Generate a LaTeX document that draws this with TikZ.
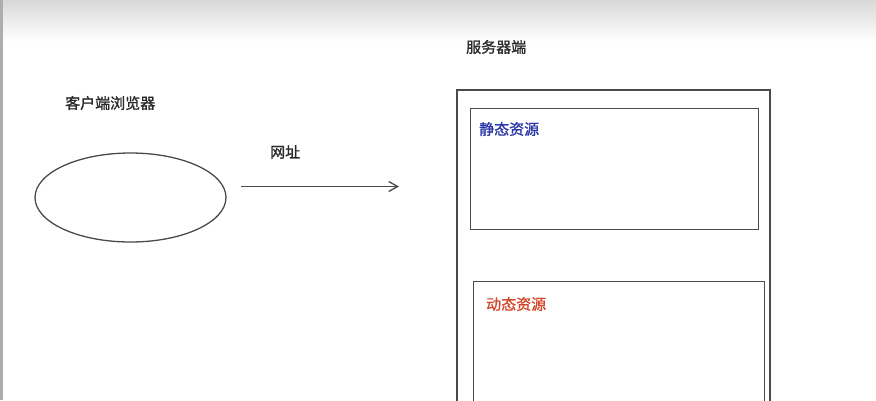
\documentclass[tikz,border=0pt]{standalone}
\usepackage{fontspec}
\newfontfamily\cjk[FakeBold=1.2]{Noto Sans CJK SC}
\usetikzlibrary{arrows.meta,shapes.geometric}
\definecolor{linegray}{HTML}{4A4A4A}
\definecolor{txtgray}{HTML}{2A2A2A}
\definecolor{resblue}{HTML}{2B36A8}
\definecolor{resred}{HTML}{D4472A}
\tikzset{
  lbl/.style={font=\cjk\fontsize{15}{17}\selectfont, text=txtgray, inner sep=0pt},
  boxline/.style={draw=linegray, line width=1.3pt},
}
\begin{document}
\begin{tikzpicture}[x=1pt,y=-1pt]
\useasboundingbox (0,0) rectangle (876,400);
\fill[white] (0,0) rectangle (876,400);
\shade[top color=black!15, bottom color=white] (0,0) rectangle (876,42);
\fill[black!32] (0,0) rectangle (3,400);
% client
\node[lbl, anchor=west] (client) at (65,103) {客户端浏览器};
\node[boxline, draw, ellipse, minimum width=191, minimum height=89, inner sep=0pt] (browser) at (130.5,197.5) {};
\coordinate (arrS) at (241,186.5);
\coordinate (arrE) at (399,186.5);
\draw[draw=linegray, line width=1.3pt, -{Straight Barb[length=9pt,width=10pt]}] (arrS) -- (arrE);
\node[lbl, anchor=west] (url) at (270,152) {网址};
% server
\node[lbl, anchor=west] (server) at (466,47) {服务器端};
\draw[boxline] (457,90) rectangle (770,410);
\node[boxline, draw, rectangle, anchor=north west, minimum width=288.5, minimum height=121, inner sep=0pt] (static) at (469.5,108) {};
\node[lbl, text=resblue, anchor=west] (staticlbl) at (479,129) {静态资源};
\node[boxline, draw, rectangle, anchor=north west, minimum width=290.5, minimum height=140, inner sep=0pt] (dynamic) at (473,281) {};
\node[lbl, text=resred, anchor=west] (dynlbl) at (486,304) {动态资源};
\end{tikzpicture}
\end{document}
